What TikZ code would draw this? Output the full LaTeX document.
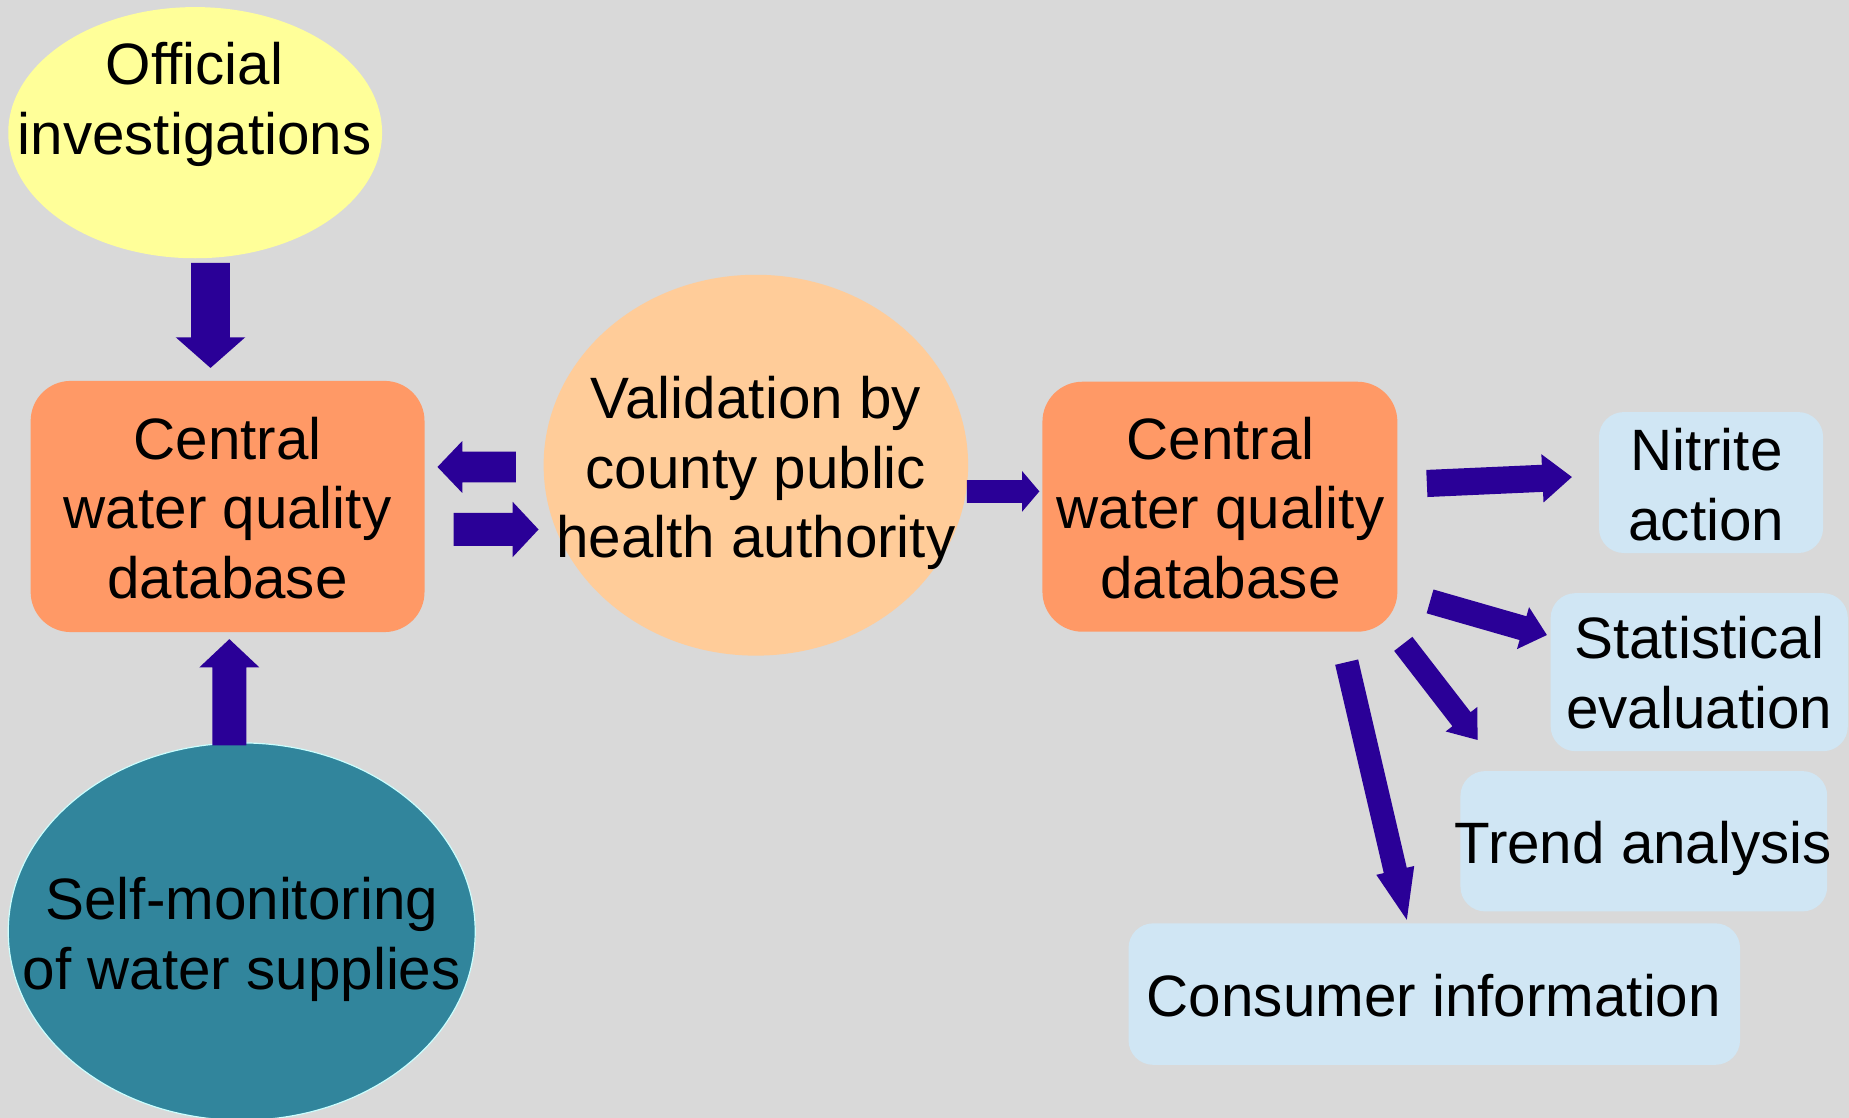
\documentclass[tikz,border=0pt]{standalone}
\usepackage{fontspec}
\setmainfont{Liberation Sans}
\usetikzlibrary{shapes.geometric,calc}
\definecolor{bgc}{HTML}{D9D9D9}
\definecolor{yellowc}{HTML}{FFFF99}
\definecolor{orangec}{HTML}{FF9966}
\definecolor{peachc}{HTML}{FFCC99}
\definecolor{tealc}{HTML}{31859C}
\definecolor{tealedge}{HTML}{CCFFFF}
\definecolor{bluec}{HTML}{D0E6F4}
\definecolor{arrowc}{HTML}{2A0097}
\tikzset{
  txt/.style={font=\fontsize{49.5}{59}\selectfont, align=center, inner sep=0pt, anchor=base},
  oval/.style={ellipse, inner sep=0pt},
  dbbox/.style={rectangle, rounded corners=34pt, fill=orangec, inner sep=0pt},
  outbox/.style={rectangle, rounded corners=21pt, fill=bluec, inner sep=0pt},
  barrow/.style n args={3}{to path={let \p1=($(\tikztotarget)-(\tikztostart)$),
      \n1={atan2(\y1,\x1)}, \n2={veclen(\x1,\y1)-#3} in
    -- ($(\tikztostart)+(\n1+90:#1/2*1pt)$)
    -- ($(\tikztostart)+(\n1:\n2*1pt)+(\n1+90:#1/2*1pt)$)
    -- ($(\tikztostart)+(\n1:\n2*1pt)+(\n1+90:#2/2*1pt)$)
    -- (\tikztotarget)
    -- ($(\tikztostart)+(\n1:\n2*1pt)+(\n1-90:#2/2*1pt)$)
    -- ($(\tikztostart)+(\n1:\n2*1pt)+(\n1-90:#1/2*1pt)$)
    -- ($(\tikztostart)+(\n1-90:#1/2*1pt)$)
    -- cycle}},
  conn/.style={fill=arrowc}
}
\begin{document}
\begin{tikzpicture}[x=1pt,y=-1pt]
\path[use as bounding box, fill=bgc] (0,0) rectangle (1568,948);

% shapes
\node[oval, fill=yellowc, minimum width=317pt, minimum height=213pt] (offi) at (165.5,112.5) {};
\node[dbbox, minimum width=334pt, minimum height=213pt] (db1) at (193,429.5) {};
\node[oval, fill=tealc, draw=tealedge, line width=1pt, minimum width=396pt, minimum height=320pt] (self) at (205,790) {};
\node[oval, fill=peachc, minimum width=360pt, minimum height=323pt] (valid) at (641,394.5) {};
\node[dbbox, minimum width=301pt, minimum height=212pt] (db2) at (1034.5,429.7) {};
\node[outbox, minimum width=190pt, minimum height=119.5pt] (nitr) at (1451,409.2) {};
\node[outbox, minimum width=252pt, minimum height=134pt] (stat) at (1441,570) {};
\node[outbox, minimum width=311pt, minimum height=119pt] (trend) at (1394,713.4) {};
\node[outbox, minimum width=518.6pt, minimum height=120pt] (cons) at (1216.3,843) {};

% texts (anchor base = baseline of the last line)
\node[txt] (offit) at (165,131) {Official\\investigations};
\node[txt] (db1t) at (193,507.4) {Central\\water quality\\database};
\node[txt] (selft) at (205,839) {Self-monitoring\\of water supplies};
\node[txt] (validt) at (641,473) {Validation by\\county public\\health authority};
\node[txt] (db2t) at (1035,507.4) {Central\\water quality\\database};
\node[txt] (nitrt) at (1447,458) {Nitrite\\action};
\node[txt] (statt) at (1441,617.5) {Statistical\\evaluation};
\node[txt] (trendt) at (1393.5,732) {Trend analysis};
\node[txt] (const) at (1216,861.6) {Consumer information};

% connector end points
\coordinate (a1s) at (178.5,223);  \coordinate (a1e) at (178.5,312);
\coordinate (a2s) at (194.5,632);  \coordinate (a2e) at (194.5,542);
\coordinate (a3s) at (437.5,396);  \coordinate (a3e) at (371,396);
\coordinate (a4s) at (384.7,449);  \coordinate (a4e) at (456.7,449);
\coordinate (a5s) at (820,416.7);  \coordinate (a5e) at (881.4,416.7);
\coordinate (a6s) at (1210,410);   \coordinate (a6e) at (1333,404.5);
\coordinate (a7s) at (1212.7,510); \coordinate (a7e) at (1311.8,538.5);
\coordinate (a8s) at (1190,546);   \coordinate (a8e) at (1253,627.5);
\coordinate (a9s) at (1142,561.5); \coordinate (a9e) at (1193,780);

% connectors
\fill[conn] (a1s) to[barrow={33}{59}{26}] (a1e);
\fill[conn] (a2s) to[barrow={29}{51}{24}] (a2e);
\fill[conn] (a3s) to[barrow={26}{44}{21}] (a3e);
\fill[conn] (a4s) to[barrow={28}{47}{22}] (a4e);
\fill[conn] (a5s) to[barrow={19.3}{34.6}{14.7}] (a5e);
\fill[conn] (a6s) to[barrow={23}{41}{25}] (a6e);
\fill[conn] (a7s) to[barrow={21}{37}{21}] (a7e);
\fill[conn] (a8s) to[barrow={19.5}{34}{22}] (a8e);
\fill[conn] (a9s) to[barrow={20}{33}{43}] (a9e);
\end{tikzpicture}
\end{document}
